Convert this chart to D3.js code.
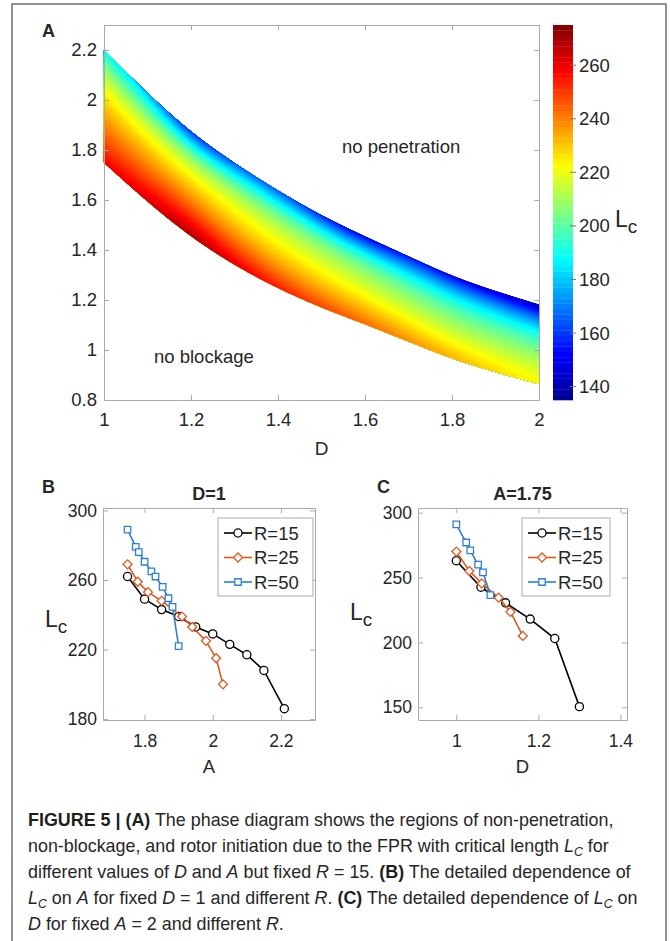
<!DOCTYPE html>
<html>
<head>
<meta charset="utf-8">
<script src="https://cdn.jsdelivr.net/npm/d3@7"></script>
<style>
body { margin: 0; background: #fff; }
text { font-family: "Liberation Sans", Arial, Helvetica, sans-serif; fill: #262626; }
.ax path, .ax line { stroke: #a9a9a9; }
</style>
</head>
<body>
<svg id="fig" width="670" height="941"></svg>
<script>
// ---- panel A: band between the two boundaries, read every 0.1 in D
const phaseD = [1.0, 1.1, 1.2, 1.3, 1.4, 1.5, 1.6, 1.7, 1.8, 1.9, 2.0];
const upperA = [2.20, 2.025, 1.868, 1.745, 1.635, 1.535, 1.452, 1.373, 1.293, 1.233, 1.18];
const lowerA = [1.75, 1.593, 1.453, 1.34, 1.247, 1.17, 1.105, 1.035, 0.965, 0.912, 0.865];
// L_c across the band, lower edge (0) to upper edge (1)
const bandFrac = [0, 0.2, 0.4, 0.6, 0.8, 1];
const lcFrac0 = [258, 262, 271, 260, 254, 248, 243, 238, 233, 228, 223];
const lcFrac20 = [246, 248, 252, 244, 238, 234, 230, 226, 222, 219, 216];
const lcFrac40 = [236, 235, 236, 230, 226, 222, 218, 214, 211, 208, 206];
const lcFrac60 = [225, 222, 222, 219, 215, 212, 208, 204, 200, 197, 194];
const lcFrac80 = [211, 206, 203, 203, 200, 196, 190, 186, 182, 178, 173];
const lcFrac100 = [190, 180, 156, 168, 168, 158, 150, 158, 152, 148, 143];
const phaseXTicks = [1, 1.2, 1.4, 1.6, 1.8, 2];
const phaseYTicks = [0.8, 1, 1.2, 1.4, 1.6, 1.8, 2, 2.2];
const cbTicks = [140, 160, 180, 200, 220, 240, 260];
const cbRange = [135, 275];

// ---- panel B: L_c vs A at D=1
const aR15 = [1.75, 1.80, 1.85, 1.90, 1.95, 2.00, 2.05, 2.10, 2.15, 2.21];
const lcAR15 = [262, 249, 243, 239, 233, 229, 223, 217, 208, 186];
const aR25 = [1.75, 1.78, 1.81, 1.85, 1.91, 1.94, 1.98, 2.01, 2.03];
const lcAR25 = [269, 259, 253, 248, 239, 233, 225, 215, 200];
const aR50 = [1.75, 1.774, 1.783, 1.80, 1.82, 1.832, 1.853, 1.87, 1.882, 1.90];
const lcAR50 = [289, 279, 276, 270.5, 265, 262, 256, 249.5, 244.5, 222];
const bXTicks = [1.8, 2, 2.2];
const bYTicks = [180, 220, 260, 300];

// ---- panel C: L_c vs D at A=1.75
const dR15 = [1.0, 1.06, 1.12, 1.18, 1.24, 1.30];
const lcDR15 = [263, 242.5, 230.5, 218, 203, 150.5];
const dR25 = [1.0, 1.032, 1.062, 1.103, 1.132, 1.162];
const lcDR25 = [270, 255, 245.5, 234.5, 223.5, 205];
const dR50 = [1.0, 1.024, 1.034, 1.053, 1.065, 1.083];
const lcDR50 = [291, 277, 271, 260, 254, 236.5];
const cXTicks = [1, 1.2, 1.4];
const cYTicks = [150, 200, 250, 300];

const seriesNames = ["R=15", "R=25", "R=50"];

const svg = d3.select("#fig");

svg.append("rect")
    .attr("x", 12).attr("y", 4)
    .attr("width", 654).attr("height", 960)
    .attr("fill", "none")
    .attr("stroke", "#5a5a5a")
    .attr("stroke-width", 1.3);

// matlab jet
const jet = d3.scaleLinear()
    .domain([0, 0.125, 0.375, 0.625, 0.875, 1].map(t => cbRange[0] + t * (cbRange[1] - cbRange[0])))
    .range(["#000090", "#0000ff", "#00ffff", "#ffff00", "#ff0000", "#800000"])
    .clamp(true);

function boxAxes(g, x, y, xTicks, yTicks, xPad, yPad, fs) {
    const [x0, x1] = x.range();
    const [y0, y1] = y.range();
    g.append("g").attr("class", "ax")
        .attr("transform", `translate(0,${y0})`)
        .call(d3.axisBottom(x).tickValues(xTicks).tickSizeInner(-5).tickSizeOuter(0).tickPadding(xPad).tickFormat(d3.format("~g")));
    g.append("g").attr("class", "ax")
        .attr("transform", `translate(${x0},0)`)
        .call(d3.axisLeft(y).tickValues(yTicks).tickSizeInner(-5).tickSizeOuter(0).tickPadding(yPad).tickFormat(d3.format("~g")));
    g.append("g").attr("class", "ax")
        .attr("transform", `translate(0,${y1})`)
        .call(d3.axisTop(x).tickValues(xTicks).tickSizeInner(-5).tickSizeOuter(0).tickFormat(""));
    g.append("g").attr("class", "ax")
        .attr("transform", `translate(${x1},0)`)
        .call(d3.axisRight(y).tickValues(yTicks).tickSizeInner(-5).tickSizeOuter(0).tickFormat(""));
    g.selectAll(".ax text")
        .attr("font-family", null)
        .attr("font-size", fs)
        .attr("fill", "#262626");
}

function lcLabel(g, x, y, fs) {
    const t = g.append("text").attr("x", x).attr("y", y).attr("font-size", fs);
    t.append("tspan").text("L");
    t.append("tspan").attr("dy", 6).attr("font-size", fs * 0.82).text("c");
}

// ================= panel A =================
const xA = d3.scaleLinear().domain([1, 2]).range([104, 539]);
const yA = d3.scaleLinear().domain([0.8, 2.3]).range([400, 25]);
const aG = svg.append("g");

const lcRows = [lcFrac0, lcFrac20, lcFrac40, lcFrac60, lcFrac80, lcFrac100];
const nx = 220, ny = 70;
const tOfD = d3.scaleLinear().domain(d3.extent(phaseD)).range([0, 1]);
const upperFn = d3.interpolateBasis(upperA);
const lowerFn = d3.interpolateBasis(lowerA);
const rowFns = lcRows.map(r => d3.interpolateBasis(r));
const field = new Float64Array(nx * ny);
for (let i = 0; i < nx; i++) {
    const t = (i + 0.5) / nx;
    const colFn = d3.interpolateBasis(rowFns.map(fn => fn(t)));
    for (let j = 0; j < ny; j++) {
        field[j * nx + i] = colFn((j + 0.5) / ny);
    }
}
const levelStep = 2;
const levels = d3.range(cbRange[0] - 10, cbRange[1], levelStep);
const contours = d3.contours().size([nx, ny]).thresholds(levels)(field);

const bandPath = d3.geoPath(d3.geoTransform({
    point(gx, gy) {
        const t = gx / nx, f = gy / ny;
        const lo = lowerFn(t), hi = upperFn(t);
        this.stream.point(xA(tOfD.invert(t)), yA(lo + f * (hi - lo)));
    }
}));

aG.append("g")
    .selectAll("path")
    .data(contours)
    .join("path")
    .attr("d", bandPath)
    .attr("fill", d => jet(Math.max(d.value + levelStep / 2, cbRange[0])))
    .attr("stroke", d => jet(Math.max(d.value + levelStep / 2, cbRange[0])))
    .attr("stroke-width", 0.3);

boxAxes(aG, xA, yA, phaseXTicks, phaseYTicks, 13, 7, 18.5);

aG.append("text").attr("x", xA(1.5)).attr("y", 455).attr("text-anchor", "middle").attr("font-size", 19).text("D");
aG.append("text").attr("x", 342).attr("y", 153).attr("font-size", 18.5).text("no penetration");
aG.append("text").attr("x", 154).attr("y", 363).attr("font-size", 18.5).text("no blockage");
aG.append("text").attr("x", 42).attr("y", 37).attr("font-size", 18).attr("font-weight", "bold").attr("fill", "#000").text("A");

// colorbar
const yCb = d3.scaleLinear().domain(cbRange).range([400, 25]);
const cbBands = d3.range(cbRange[0], cbRange[1], 2);
aG.append("g")
    .selectAll("rect")
    .data(cbBands)
    .join("rect")
    .attr("x", 553)
    .attr("width", 20)
    .attr("y", d => yCb(Math.min(d + 2, cbRange[1])))
    .attr("height", d => yCb(d) - yCb(Math.min(d + 2, cbRange[1])) + 0.3)
    .attr("fill", d => jet(d + 1));
aG.append("g")
    .selectAll("line")
    .data(cbTicks)
    .join("line")
    .attr("x1", 570).attr("x2", 576)
    .attr("y1", d => yCb(d)).attr("y2", d => yCb(d))
    .attr("stroke", "#777");
aG.append("g")
    .selectAll("text")
    .data(cbTicks)
    .join("text")
    .attr("x", 579)
    .attr("y", d => yCb(d))
    .attr("dy", "0.35em")
    .attr("font-size", 18.5)
    .text(d => d);
lcLabel(aG, 615, 227, 23);

// ================= panels B, C =================
const lineColors = ["#000000", "#d95a22", "#2f7fce"];
const markerShape = [d3.symbolCircle, d3.symbolSquare, d3.symbolSquare];
const markerSize = [52, 40, 42];
const markerRot = [0, 45, 0];

function linePanel(opts) {
    const g = svg.append("g");
    const x = opts.x, y = opts.y;
    boxAxes(g, x, y, opts.xTicks, opts.yTicks, 15, 6, 17.5);
    const line = d3.line().x(d => x(d[0])).y(d => y(d[1]));
    opts.series.forEach((s, k) => {
        const pts = d3.zip(s[0], s[1]);
        g.append("path")
            .attr("d", line(pts))
            .attr("fill", "none")
            .attr("stroke", lineColors[k])
            .attr("stroke-width", 1.6);
        g.append("g")
            .selectAll("path")
            .data(pts)
            .join("path")
            .attr("transform", d => `translate(${x(d[0])},${y(d[1])}) rotate(${markerRot[k]})`)
            .attr("d", d3.symbol(markerShape[k], markerSize[k]))
            .attr("fill", "#fff")
            .attr("stroke", lineColors[k])
            .attr("stroke-width", 1.3);
    });
    // legend
    const lg = g.append("g").attr("transform", `translate(${opts.legend[0]},${opts.legend[1]})`);
    lg.append("rect")
        .attr("width", opts.legend[2]).attr("height", 78)
        .attr("fill", "#fff").attr("stroke", "#a9a9a9");
    seriesNames.forEach((name, k) => {
        const ly = 15 + k * 24.5;
        lg.append("line")
            .attr("x1", 6).attr("x2", 34).attr("y1", ly).attr("y2", ly)
            .attr("stroke", lineColors[k]).attr("stroke-width", 1.6);
        lg.append("path")
            .attr("transform", `translate(20,${ly}) rotate(${markerRot[k]})`)
            .attr("d", d3.symbol(markerShape[k], markerSize[k]))
            .attr("fill", "#fff")
            .attr("stroke", lineColors[k])
            .attr("stroke-width", 1.3);
        lg.append("text")
            .attr("x", 36).attr("y", ly).attr("dy", "0.36em")
            .attr("font-size", 18.5)
            .text(name);
    });
    const [x0, x1] = x.range();
    g.append("text").attr("x", (x0 + x1) / 2).attr("y", 500).attr("text-anchor", "middle")
        .attr("font-size", 18).attr("font-weight", "bold").attr("fill", "#111").text(opts.title);
    g.append("text").attr("x", (x0 + x1) / 2).attr("y", 773).attr("text-anchor", "middle")
        .attr("font-size", 18.5).text(opts.xLabel);
    g.append("text").attr("x", opts.tag[0]).attr("y", 493).attr("font-size", 18)
        .attr("font-weight", "bold").attr("fill", "#000").text(opts.tag[1]);
    lcLabel(g, opts.lc[0], opts.lc[1], 23);
}

linePanel({
    x: d3.scaleLinear().domain([1.678, 2.3]).range([103, 315]),
    y: d3.scaleLinear().domain([179.5, 301.4]).range([720, 508]),
    xTicks: bXTicks, yTicks: bYTicks,
    series: [[aR15, lcAR15], [aR25, lcAR25], [aR50, lcAR50]],
    legend: [218, 518, 95],
    title: "D=1", xLabel: "A", tag: [42, "B"], lc: [45, 627]
});

linePanel({
    x: d3.scaleLinear().domain([0.9066, 1.416]).range([418, 627]),
    y: d3.scaleLinear().domain([140.2, 303.6]).range([720, 508]),
    xTicks: cXTicks, yTicks: cYTicks,
    series: [[dR15, lcDR15], [dR25, lcDR25], [dR50, lcDR50]],
    legend: [522, 518, 88],
    title: "A=1.75", xLabel: "D", tag: [377, "C"], lc: [350, 620]
});

// ================= caption =================
const capLines = [
    [["b", "FIGURE 5 | (A)"], ["", " The phase diagram shows the regions of non-penetration,"]],
    [["", "non-blockage, and rotor initiation due to the FPR with critical length "], ["i", "L"], ["is", "C"], ["", " for"]],
    [["", "different values of "], ["i", "D"], ["", " and "], ["i", "A"], ["", " but fixed "], ["i", "R"], ["", " = 15. "], ["b", "(B)"], ["", " The detailed dependence of"]],
    [["i", "L"], ["is", "C"], ["", " on "], ["i", "A"], ["", " for fixed "], ["i", "D"], ["", " = 1 and different "], ["i", "R"], ["", ". "], ["b", "(C)"], ["", " The detailed dependence of "], ["i", "L"], ["is", "C"], ["", " on"]],
    [["i", "D"], ["", " for fixed "], ["i", "A"], ["", " = 2 and different "], ["i", "R"], ["", "."]]
];
const capG = svg.append("g");
capLines.forEach((parts, i) => {
    const t = capG.append("text")
        .attr("x", 28).attr("y", 826 + i * 26)
        .attr("font-size", 17.9)
        .attr("fill", "#3a3a3a")
        .attr("xml:space", "preserve");
    let lowered = false;
    parts.forEach(([style, str]) => {
        const sp = t.append("tspan").text(str);
        if (style === "b") sp.attr("font-weight", "bold").attr("fill", "#1e1e1e");
        if (style === "i") sp.attr("font-style", "italic");
        if (style === "is") {
            sp.attr("font-style", "italic").attr("font-size", 12.3).attr("dy", 3.5);
            lowered = true;
        } else if (lowered) {
            sp.attr("dy", -3.5);
            lowered = false;
        }
    });
});
</script>
</body>
</html>
